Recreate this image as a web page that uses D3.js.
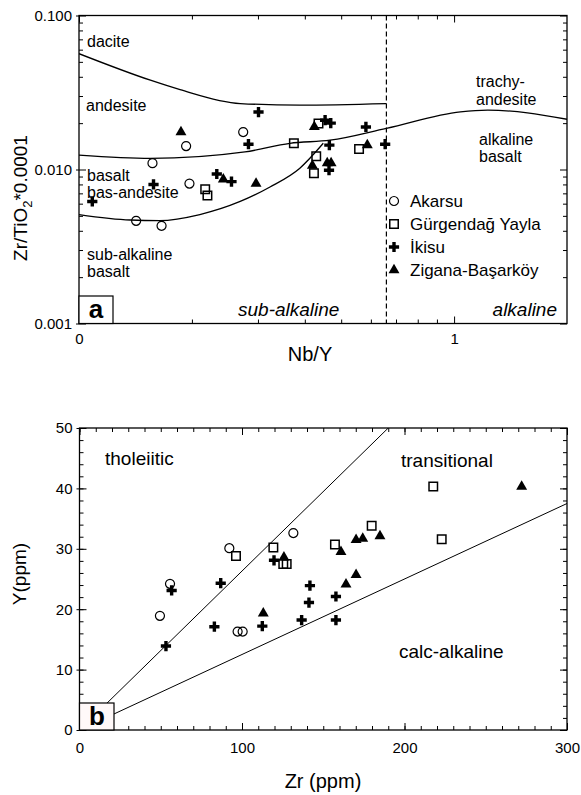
<!DOCTYPE html>
<html>
<head>
<meta charset="utf-8">
<script src="https://cdn.jsdelivr.net/npm/d3@7"></script>
<style>
  body { margin: 0; background: #fff; }
  text { font-family: "Liberation Sans", Arial, sans-serif; fill: #000; }
</style>
</head>
<body>
<script>
const FONT = '"Liberation Sans", Arial, sans-serif';

// ----- DATA, panel a: Nb/Y vs Zr/TiO2*0.0001 -----
const akarsuA = [[0.157, 0.0110], [0.193, 0.0142], [0.274, 0.0175], [0.197, 0.0081], [0.142, 0.00464], [0.166, 0.00431]];
const gurgendagA = [[0.374, 0.0148], [0.435, 0.0199], [0.429, 0.0122], [0.423, 0.00945], [0.558, 0.0136], [0.217, 0.00745], [0.220, 0.00677]];
const ikisuA = [[0.301, 0.0236], [0.283, 0.0146], [0.453, 0.0209], [0.469, 0.0200], [0.582, 0.0189], [0.465, 0.0144],
  [0.655, 0.0146], [0.464, 0.0099], [0.1085, 0.0062], [0.158, 0.0080], [0.233, 0.00935], [0.255, 0.00834]];
const ziganaA = [[0.187, 0.0175], [0.424, 0.0189], [0.587, 0.0144], [0.419, 0.0106], [0.459, 0.0110], [0.470, 0.0110],
  [0.2425, 0.00864], [0.2965, 0.0081]];

// field boundaries (Nb/Y, Zr/TiO2*0.0001)
const daciteLine = [[0.1, 0.0565], [0.155, 0.038], [0.186, 0.033], [0.269, 0.0268], [0.388, 0.0262], [0.66, 0.0268]];
const andesiteLine = [[0.1, 0.0124], [0.155, 0.0118], [0.277, 0.0130], [0.365, 0.0148], [0.467, 0.0155], [0.66, 0.0185],
  [1.04, 0.0237], [1.23, 0.0243], [2, 0.0212]];
const basaltLine = [[0.1, 0.0051], [0.137, 0.0047], [0.164, 0.00466], [0.21, 0.0051], [0.269, 0.0062], [0.323, 0.0077],
  [0.388, 0.0102], [0.448, 0.0148]];
const alkalineDivide = 0.66;

const aXTicks = [0.1, 1];
const aXTickLabels = ["0", "1"];
const aYTicks = [0.001, 0.01, 0.1];
const aYTickLabels = ["0.001", "0.010", "0.100"];

// ----- DATA, panel b: Zr vs Y (ppm) -----
const akarsuB = [[49.5, 18.9], [55.7, 24.2], [92.2, 30.1], [97.3, 16.3], [100.4, 16.3], [131.6, 32.6]];
const gurgendagB = [[96.3, 28.8], [119.3, 30.2], [125.4, 27.5], [127.5, 27.5], [157.2, 30.7], [179.8, 33.8], [222.9, 31.6], [217.7, 40.3]];
const ikisuB = [[56.7, 23.1], [53.2, 13.9], [86.9, 24.3], [83, 17.1], [112.5, 17.2], [119.7, 28.1], [141.8, 23.9],
  [141.2, 21.1], [136.7, 18.2], [157.8, 22.1], [157.8, 18.2]];
const ziganaB = [[113.1, 19.3], [125.8, 28.6], [160.9, 29.5], [170.2, 31.5], [174.3, 31.7], [184.9, 32.1], [170.2, 25.7],
  [164, 24.1], [272.1, 40.3]];

const tholeiiticLine = [[0, 0], [190, 50]];
const calcAlkalineLine = [[0, 0], [300, 37.5]];

const bXTicks = [0, 100, 200, 300];
const bYTicks = [0, 10, 20, 30, 40, 50];

const groupNames = ["Akarsu", "Gürgendağ Yayla", "İkisu", "Zigana-Başarköy"];
const groupKinds = ["circle", "square", "cross", "triangle"];

// ----- SVG -----
const svg = d3.select("body").append("svg")
  .attr("width", 581)
  .attr("height", 795);

// symbol for each locality
function marker(kind) {
  const t = { circle: d3.symbolCircle, square: d3.symbolSquare, cross: d3.symbolCross, triangle: d3.symbolTriangle }[kind];
  const s = { circle: 64, square: 72, cross: 58, triangle: 52 }[kind];
  return d3.symbol().type(t).size(s)();
}
function styleMarker(sel, kind) {
  const filled = kind === "cross" || kind === "triangle";
  sel.attr("d", marker(kind))
    .attr("fill", filled ? "#000" : "none")
    .attr("stroke", filled ? "none" : "#000")
    .attr("stroke-width", kind === "square" ? 1.5 : 1.2);
}

// one set of ticks along one side
function tickAxis(g, axis, values, len, labels, pad) {
  const a = g.append("g").call(axis
    .tickValues(values)
    .tickSizeInner(-len)
    .tickSizeOuter(0)
    .tickPadding(pad || 3)
    .tickFormat(labels ? (d, i) => labels[i] : () => ""));
  a.select(".domain").remove();
  a.attr("font-family", FONT).attr("font-size", 15);
  a.selectAll(".tick line").attr("stroke", "#000").attr("stroke-width", 1);
  return a;
}

function drawFrame(g, x, y, xMajor, xMinor, yMajor, yMinor, xLabels, yLabels, xPad) {
  const [x0, x1] = x.range(), [y0, y1] = y.range();
  // bottom
  tickAxis(g.append("g").attr("transform", `translate(0,${y0})`), d3.axisBottom(x), xMinor, 4);
  tickAxis(g.append("g").attr("transform", `translate(0,${y0})`), d3.axisBottom(x), xMajor, 7, xLabels, xPad);
  // top
  tickAxis(g.append("g").attr("transform", `translate(0,${y1})`), d3.axisTop(x), xMinor, 4);
  tickAxis(g.append("g").attr("transform", `translate(0,${y1})`), d3.axisTop(x), xMajor, 7);
  // left
  tickAxis(g.append("g").attr("transform", `translate(${x0},0)`), d3.axisLeft(y), yMinor, 4);
  tickAxis(g.append("g").attr("transform", `translate(${x0},0)`), d3.axisLeft(y), yMajor, 7, yLabels, 7)
    .selectAll(".tick line").attr("x1", -3);
  // right
  tickAxis(g.append("g").attr("transform", `translate(${x1},0)`), d3.axisRight(y), yMinor, 4);
  tickAxis(g.append("g").attr("transform", `translate(${x1},0)`), d3.axisRight(y), yMajor, 7);

  g.append("rect")
    .attr("x", x0).attr("y", y1)
    .attr("width", x1 - x0).attr("height", y0 - y1)
    .attr("fill", "none").attr("stroke", "#000").attr("stroke-width", 1.3);
}

function addText(g, x, y, str, size, opts) {
  const t = g.append("text").attr("x", x).attr("y", y).attr("font-size", size).text(str);
  if (opts && opts.anchor) t.attr("text-anchor", opts.anchor);
  if (opts && opts.italic) t.attr("font-style", "italic");
  if (opts && opts.bold) t.attr("font-weight", "bold");
  return t;
}

// ===================== PANEL A =====================
const xA = d3.scaleLog().domain([0.1, 2]).range([79, 567]);
const yA = d3.scaleLog().domain([0.001, 0.1]).range([323.5, 15.5]);
const gA = svg.append("g");

svg.append("clipPath").attr("id", "clipA").append("rect")
  .attr("x", 79).attr("y", 15.5).attr("width", 488).attr("height", 308);

const lineA = d3.line().x(d => xA(d[0])).y(d => yA(d[1])).curve(d3.curveMonotoneX);
[daciteLine, andesiteLine, basaltLine].forEach(l => {
  gA.append("path").attr("d", lineA(l)).attr("clip-path", "url(#clipA)")
    .attr("fill", "none").attr("stroke", "#000").attr("stroke-width", 1.3);
});

// sub-alkaline / alkaline divide
gA.append("line")
  .attr("x1", xA(alkalineDivide)).attr("x2", xA(alkalineDivide))
  .attr("y1", yA(0.1)).attr("y2", yA(0.001))
  .attr("stroke", "#000").attr("stroke-width", 1.2).attr("stroke-dasharray", "5,3");

// rock names
addText(gA, 87, 47, "dacite", 16);
addText(gA, 86, 111, "andesite", 16);
addText(gA, 87, 181, "basalt", 16);
addText(gA, 87, 198, "bas-andesite", 16);
addText(gA, 87, 260, "sub-alkaline", 16);
addText(gA, 87, 277, "basalt", 16);
addText(gA, 476, 87, "trachy-", 16);
addText(gA, 476, 105, "andesite", 16);
addText(gA, 479, 145, "alkaline", 16);
addText(gA, 479, 162, "basalt", 16);
addText(gA, 238, 316, "sub-alkaline", 19, { italic: true });
addText(gA, 557, 316, "alkaline", 19, { italic: true, anchor: "end" });

const aMinorX = xA.ticks().filter(d => d > 0.1 && d < 1);
const aMinorY = yA.ticks().filter(d => !aYTicks.includes(d));
drawFrame(gA, xA, yA, aXTicks, aMinorX, aYTicks, aMinorY, aXTickLabels, aYTickLabels, 10);

// samples
[akarsuA, gurgendagA, ikisuA, ziganaA].forEach((data, i) => {
  gA.append("g").selectAll("path").data(data).enter().append("path")
    .attr("transform", d => `translate(${xA(d[0])},${yA(d[1])})`)
    .call(styleMarker, groupKinds[i]);
});

// legend
const legendY = [201, 224, 247, 270];
groupNames.forEach((name, i) => {
  gA.append("path").attr("transform", `translate(394,${legendY[i]})`).call(styleMarker, groupKinds[i]);
  addText(gA, 410, legendY[i] + 6, name, 17);
});

// panel letter
gA.append("rect").attr("x", 79).attr("y", 296).attr("width", 34).attr("height", 27.5)
  .attr("fill", "#fff").attr("stroke", "#000").attr("stroke-width", 1.2);
addText(gA, 96, 318, "a", 26, { bold: true, anchor: "middle" });

// axis titles
addText(gA, 310, 361, "Nb/Y", 20, { anchor: "middle" });
const yTitleA = gA.append("text").attr("transform", "translate(27,198) rotate(-90)")
  .attr("text-anchor", "middle").attr("font-size", 19);
yTitleA.append("tspan").text("Zr/TiO");
yTitleA.append("tspan").attr("font-size", 13).attr("dy", 5).text("2");
yTitleA.append("tspan").attr("dy", -5).text("*0.0001");

// ===================== PANEL B =====================
const xB = d3.scaleLinear().domain([0, 300]).range([79.5, 567]);
const yB = d3.scaleLinear().domain([0, 50]).range([730, 428]);
const gB = svg.append("g");

svg.append("clipPath").attr("id", "clipB").append("rect")
  .attr("x", 79.5).attr("y", 428).attr("width", 487.5).attr("height", 302);

const lineB = d3.line().x(d => xB(d[0])).y(d => yB(d[1]));
[tholeiiticLine, calcAlkalineLine].forEach(l => {
  gB.append("path").attr("d", lineB(l)).attr("clip-path", "url(#clipB)")
    .attr("fill", "none").attr("stroke", "#000").attr("stroke-width", 1);
});

addText(gB, 105, 465, "tholeiitic", 19);
addText(gB, 401, 467, "transitional", 19);
addText(gB, 399, 658, "calc-alkaline", 19);

drawFrame(gB, xB, yB, bXTicks, d3.range(0, 301, 10), bYTicks, d3.range(0, 51, 2),
  bXTicks.map(String), bYTicks.map(String), 12);

[akarsuB, gurgendagB, ikisuB, ziganaB].forEach((data, i) => {
  gB.append("g").selectAll("path").data(data).enter().append("path")
    .attr("transform", d => `translate(${xB(d[0])},${yB(d[1])})`)
    .call(styleMarker, groupKinds[i]);
});

gB.append("rect").attr("x", 79.5).attr("y", 703).attr("width", 34.5).attr("height", 27)
  .attr("fill", "#fff9f9").attr("stroke", "#000").attr("stroke-width", 1.2);
addText(gB, 97, 725, "b", 26, { bold: true, anchor: "middle" });

addText(gB, 323, 788, "Zr (ppm)", 20, { anchor: "middle" });
addText(gB, 0, 0, "Y(ppm)", 19, { anchor: "middle" })
  .attr("transform", "translate(26,574) rotate(-90)");
</script>
</body>
</html>
